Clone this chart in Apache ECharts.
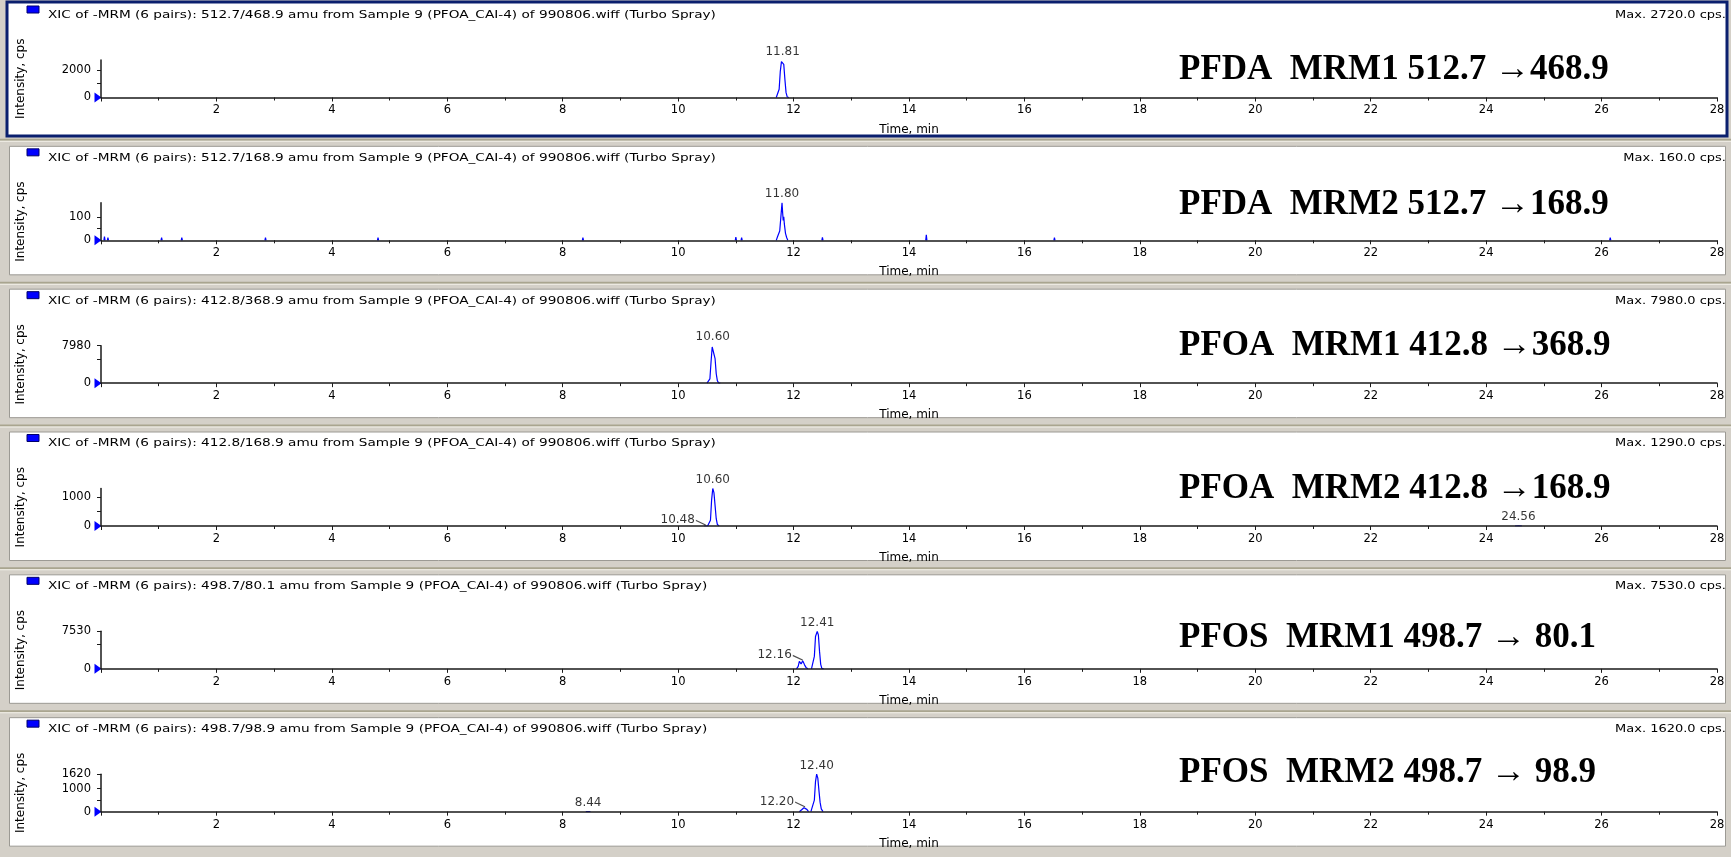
<!DOCTYPE html>
<html>
<head>
<meta charset="utf-8">
<script src="https://cdn.jsdelivr.net/npm/echarts@6/dist/echarts.min.js"></script>
<style>
html,body{margin:0;padding:0;background:#d4d0c8;}
#chart{width:1731px;height:857px;}
</style>
</head>
<body>
<div id="chart"></div>
<script>
// ---------- DATA ----------
const panelTitles = [
  'XIC of -MRM (6 pairs): 512.7/468.9 amu from Sample 9 (PFOA_CAI-4) of 990806.wiff (Turbo Spray)',
  'XIC of -MRM (6 pairs): 512.7/168.9 amu from Sample 9 (PFOA_CAI-4) of 990806.wiff (Turbo Spray)',
  'XIC of -MRM (6 pairs): 412.8/368.9 amu from Sample 9 (PFOA_CAI-4) of 990806.wiff (Turbo Spray)',
  'XIC of -MRM (6 pairs): 412.8/168.9 amu from Sample 9 (PFOA_CAI-4) of 990806.wiff (Turbo Spray)',
  'XIC of -MRM (6 pairs): 498.7/80.1 amu from Sample 9 (PFOA_CAI-4) of 990806.wiff (Turbo Spray)',
  'XIC of -MRM (6 pairs): 498.7/98.9 amu from Sample 9 (PFOA_CAI-4) of 990806.wiff (Turbo Spray)'
];
const maxLabels = ['Max. 2720.0 cps.', 'Max. 160.0 cps.', 'Max. 7980.0 cps.', 'Max. 1290.0 cps.', 'Max. 7530.0 cps.', 'Max. 1620.0 cps.'];
const compoundLabels = [
  'PFDA  MRM1 512.7 \u2192468.9',
  'PFDA  MRM2 512.7 \u2192168.9',
  'PFOA  MRM1 412.8 \u2192368.9',
  'PFOA  MRM2 412.8 \u2192168.9',
  'PFOS  MRM1 498.7 \u2192 80.1',
  'PFOS  MRM2 498.7 \u2192 98.9'
];
const yMaxValues = [2720, 160, 7980, 1290, 7530, 1620];
const yTickLabels = [[0, 2000], [0, 100], [0, 7980], [0, 1000], [0, 7530], [0, 1000, 1620]];
const yMinorTicks = [[1000], [50], [5000], [500], [5000], [500]];
const xMin = 0, xMax = 28, xInterval = 2;

// traces: null entries separate the drawn segments (baseline lies on the axis)
// trace 1: PFDA MRM1
const t1 = [11.70, 11.73, 11.75, 11.77, 11.79, 11.81, 11.83, 11.85, 11.87, 11.89, 11.92];
const i1 = [0, 60, 600, 1900, 2600, 2720, 2400, 1300, 350, 40, 0];
// trace 2: PFDA MRM2 (noise spikes + peak)
const t2 = [0.05, 0.06, 0.07, null, 0.11, 0.12, 0.13, null, 1.04, 1.05, 1.06, null, 1.39, 1.40, 1.41, null,
  2.84, 2.85, 2.86, null, 4.79, 4.80, 4.81, null, 8.34, 8.35, 8.36, null,
  10.99, 11.00, 11.01, null, 11.09, 11.10, 11.11, null,
  11.70, 11.72, 11.74, 11.76, 11.78, 11.80, 11.81, 11.82, 11.83, 11.84, 11.86, 11.88, 11.90, null,
  12.49, 12.50, 12.51, null, 14.29, 14.30, 14.31, null, 16.51, 16.52, 16.53, null, 26.14, 26.15, 26.16];
const i2 = [0, 16, 0, null, 0, 12, 0, null, 0, 11, 0, null, 0, 12, 0, null,
  0, 11, 0, null, 0, 12, 0, null, 0, 11, 0, null,
  0, 14, 0, null, 0, 12, 0, null,
  0, 14, 6, 40, 100, 160, 120, 85, 100, 70, 30, 12, 0, null,
  0, 13, 0, null, 0, 24, 0, null, 0, 12, 0, null, 0, 12, 0];
// trace 3: PFOA MRM1
const t3 = [10.50, 10.53, 10.55, 10.57, 10.59, 10.60, 10.62, 10.64, 10.66, 10.68, 10.70, 10.73];
const i3 = [0, 100, 900, 4500, 7700, 7980, 7500, 5200, 2000, 500, 60, 0];
// trace 4: PFOA MRM2
const t4 = [10.45, 10.48, 10.51, 10.54, 10.56, 10.58, 10.60, 10.62, 10.64, 10.66, 10.68, 10.71, null, 24.50, 24.56, 24.62];
const i4 = [0, 8, 0, 30, 200, 900, 1290, 1150, 700, 250, 50, 0, null, 0, 5, 0];
// trace 5: PFOS MRM1
const t5 = [12.05, 12.08, 12.10, 12.13, 12.16, 12.19, 12.22, 12.25, null, 12.31, 12.34, 12.36, 12.38, 12.41, 12.43, 12.45, 12.47, 12.49, 12.52];
const i5 = [0, 500, 1500, 1000, 1600, 800, 200, 0, null, 0, 300, 2500, 6500, 7530, 6800, 3500, 900, 100, 0];
// trace 6: PFOS MRM2
const t6 = [8.40, 8.44, 8.48, null, 12.10, 12.14, 12.18, 12.20, 12.23, 12.26, null, 12.30, 12.33, 12.36, 12.38, 12.40, 12.42, 12.44, 12.46, 12.48, 12.51];
const i6 = [0, 5, 0, null, 0, 80, 170, 180, 100, 0, null, 0, 80, 500, 1300, 1620, 1450, 900, 400, 120, 0];

const traceTimes = [t1, t2, t3, t4, t5, t6];
const traceIntensities = [i1, i2, i3, i4, i5, i6];
// peak labels drawn directly above a point
const apexLabels = [[11.81], [11.80], [10.60], [10.60, 24.56], [12.41], [12.40, 8.44]];
// peak labels with a leader line
const leaderLabels = [[], [], [], [10.48], [12.16], [12.20]];

// ---------- LAYOUT ----------
const W = 1731, H = 857;
const pitch = H / 6;
const gridLeft = 101, gridRight = 14;
const plotTop = 60, plotBottom = 97.5;
const bigLabelY = [70, 62, 60, 60.5, 66.5, 58.5];
const smallFont = 'DejaVu Sans';
const leaderPath = 'path://M0,0 L10,5 L10,6.4 L0,1.4 Z';

const grids = [], xAxes = [], yAxes = [], series = [], graphics = [];

for (let p = 0; p < 6; p++) {
  const top0 = p * pitch;
  if (p === 0) {
    graphics.push({type: 'rect', z: -10, shape: {x: 7, y: 2, width: 1720, height: 134},
      style: {fill: '#ffffff', stroke: '#0a1f6e', lineWidth: 3}});
  } else {
    graphics.push({type: 'rect', z: -10, shape: {x: 9.5, y: top0 + 3.5, width: 1716, height: 128.5},
      style: {fill: '#ffffff', stroke: '#9c9a94', lineWidth: 1}});
  }
  if (p < 5) {
    const sy = top0 + pitch - 4;
    graphics.push({type: 'rect', z: -10, shape: {x: 0, y: sy, width: W, height: 2}, style: {fill: '#a9a58f'}});
    graphics.push({type: 'rect', z: -10, shape: {x: 0, y: sy + 2, width: W, height: 1}, style: {fill: '#f4f2ea'}});
  }
  graphics.push({type: 'rect', z: 10, shape: {x: 27, y: top0 + 6, width: 12, height: 7},
    style: {fill: '#0000ff', stroke: '#00006a', lineWidth: 1}});
  graphics.push({type: 'text', z: 10, x: 48, y: top0 + 15, scaleX: 1.24,
    style: {text: panelTitles[p], font: '11px "' + smallFont + '"', fill: '#000', verticalAlign: 'middle', align: 'left'}});
  graphics.push({type: 'text', z: 10, x: 1726, y: top0 + 15, scaleX: 1.18,
    style: {text: maxLabels[p], font: '11px "' + smallFont + '"', fill: '#000', verticalAlign: 'middle', align: 'right'}});
  graphics.push({type: 'text', z: 10, x: 1179, y: top0 + bigLabelY[p],
    style: {text: compoundLabels[p], font: 'bold 35px "Liberation Serif"', fill: '#000', verticalAlign: 'middle', align: 'left'}});

  grids.push({left: gridLeft, right: gridRight, top: top0 + plotTop, height: plotBottom - plotTop, containLabel: false});

  xAxes.push({
    type: 'value', gridIndex: p, min: xMin, max: xMax, interval: xInterval, z: 5,
    name: 'Time, min', nameLocation: 'middle', nameGap: 26,
    nameTextStyle: {fontFamily: smallFont, fontSize: 12, color: '#000'},
    axisLine: {show: true, onZero: false, lineStyle: {color: '#1a1a1a', width: 1.5}},
    axisTick: {show: true, length: 4, inside: false, lineStyle: {color: '#1a1a1a'}},
    minorTick: {show: true, splitNumber: 2, length: 3, lineStyle: {color: '#1a1a1a'}},
    axisLabel: {show: true, showMinLabel: false, margin: 7, fontFamily: smallFont, fontSize: 11.5, color: '#000',
      formatter: v => (v === 0 ? '' : String(v))},
    splitLine: {show: false}
  });

  yAxes.push({
    type: 'value', gridIndex: p, min: 0, max: yMaxValues[p], z: 5,
    name: 'Intensity, cps', nameLocation: 'middle', nameGap: 74, nameRotate: 90,
    nameTextStyle: {fontFamily: smallFont, fontSize: 12, color: '#000'},
    axisLine: {show: true, lineStyle: {color: '#1a1a1a', width: 1.5}},
    axisTick: {show: true, length: 4, customValues: yTickLabels[p].filter(v => v !== 0).concat(yMinorTicks[p]), lineStyle: {color: '#1a1a1a'}},
    axisLabel: {show: true, margin: 10, fontFamily: smallFont, fontSize: 11.5, color: '#000',
      customValues: yTickLabels[p], formatter: v => String(v)},
    splitLine: {show: false}
  });

  const ts = traceTimes[p], is = traceIntensities[p];
  const lineData = ts.map((t, k) => (t === null ? [null, '-'] : [t, is[k]]));
  series.push({
    type: 'line', xAxisIndex: p, yAxisIndex: p, data: lineData, symbol: 'none', showSymbol: false,
    connectNulls: false, lineStyle: {color: '#0000ff', width: 1.2}, itemStyle: {color: '#0000ff'},
    z: 3, animation: false,
    markPoint: {
      silent: true, animation: false,
      data: [{coord: [0, 0], symbol: 'triangle', symbolRotate: -90, symbolSize: [10, 7], symbolOffset: [-3, 0],
        itemStyle: {color: '#0000ff'}, label: {show: false}}]
    }
  });

  const valueAt = t => is[ts.indexOf(t)];
  const labelData = apexLabels[p].map(t => ({
    value: [t, valueAt(t)], symbol: 'circle', symbolSize: 1,
    itemStyle: {color: 'rgba(0,0,0,0)'},
    label: {show: true, position: 'top', distance: 2, formatter: t.toFixed(2)}
  })).concat(leaderLabels[p].map(t => ({
    value: [t, valueAt(t)], symbol: leaderPath, symbolSize: [10, 6], symbolOffset: [-5, -3],
    itemStyle: {color: '#222'},
    label: {show: true, position: 'left', distance: 1, offset: [0, -3], formatter: t.toFixed(2)}
  })));
  series.push({
    type: 'scatter', xAxisIndex: p, yAxisIndex: p, data: labelData, animation: false, z: 6, silent: true,
    label: {fontFamily: smallFont, fontSize: 12, color: '#000'}
  });
}

const chart = echarts.init(document.getElementById('chart'), null, {renderer: 'canvas'});
chart.setOption({
  backgroundColor: '#d4d0c8',
  animation: false,
  grid: grids,
  xAxis: xAxes,
  yAxis: yAxes,
  series: series,
  graphic: {elements: graphics}
});
</script>
</body>
</html>
